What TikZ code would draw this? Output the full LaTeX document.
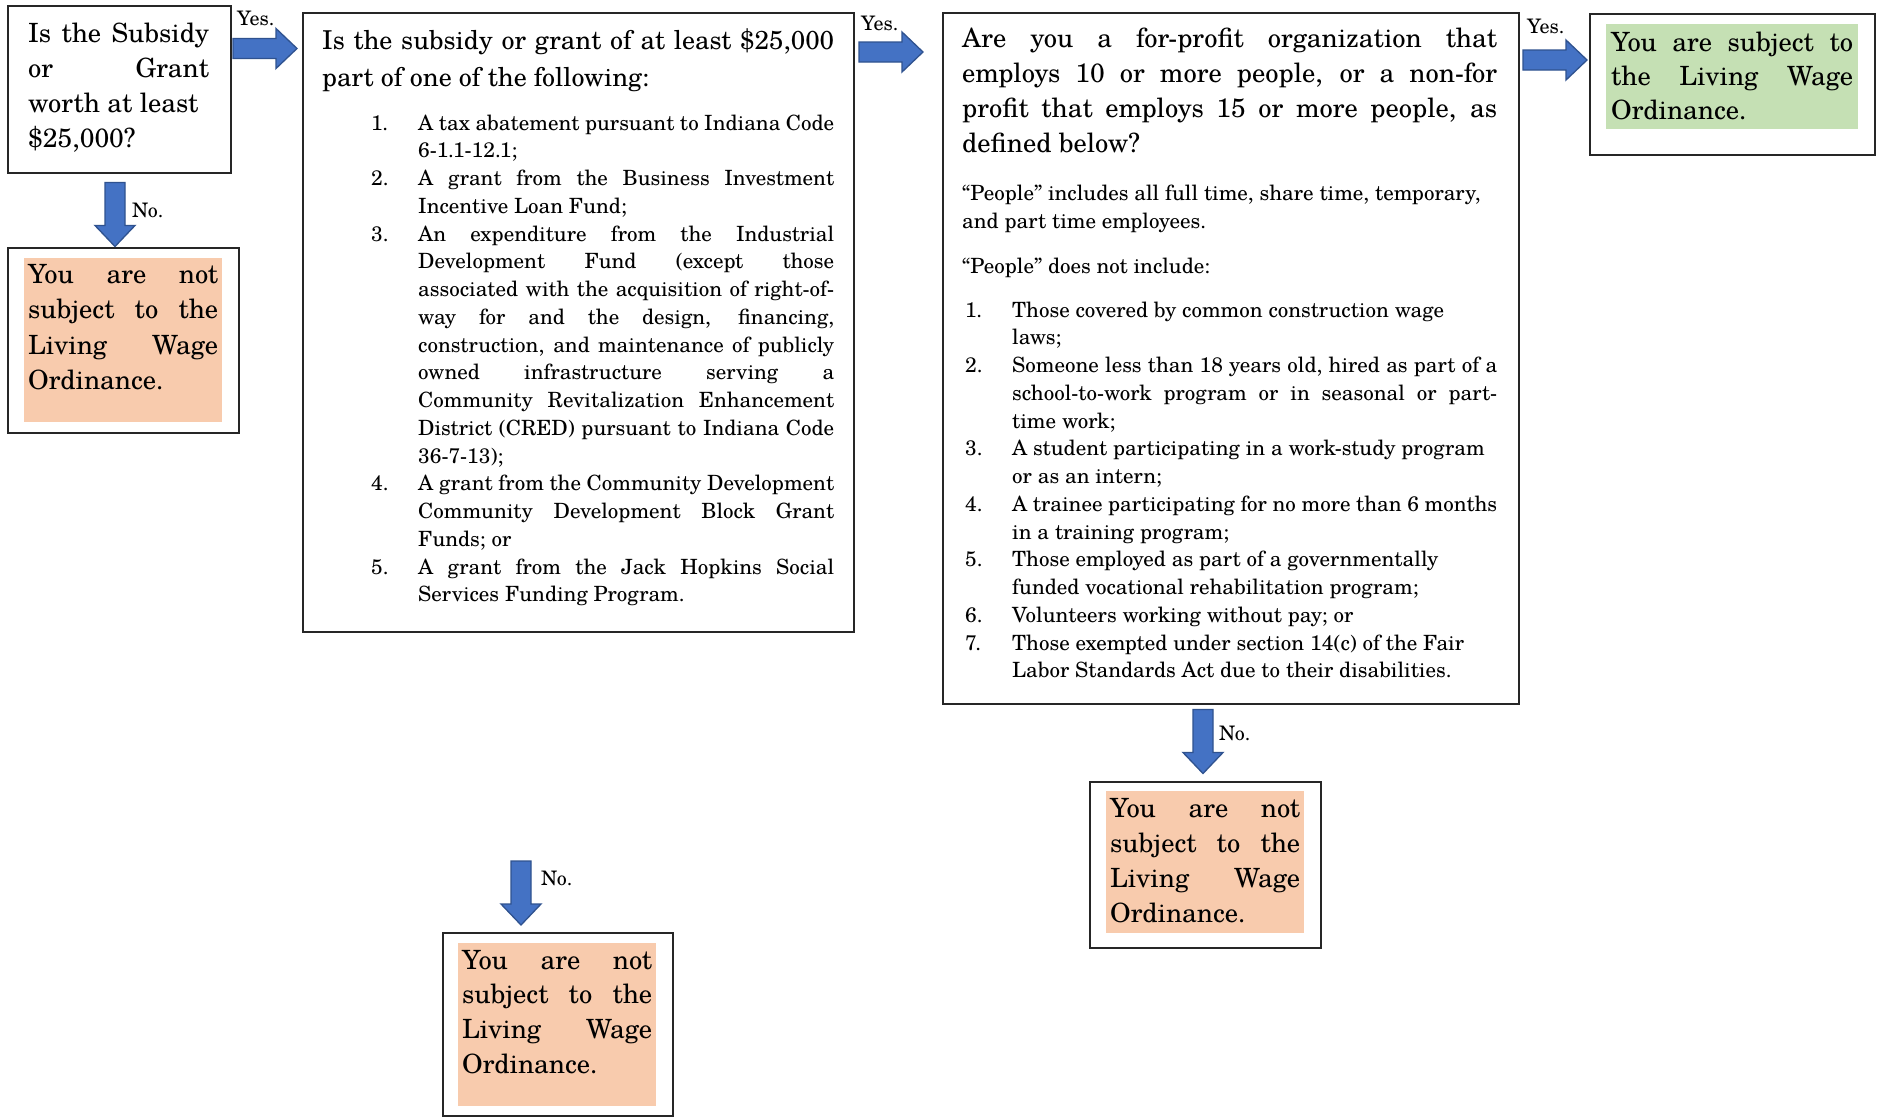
\documentclass[tikz,border=0pt]{standalone}
\usepackage{fontspec}
\IfFontExistsTF{texgyreschola-regular.otf}{\setmainfont{texgyreschola-regular.otf}}{}
\definecolor{arrowblue}{HTML}{4472C4}
\definecolor{arrowedge}{HTML}{2F528F}
\definecolor{nofill}{HTML}{F8CBAD}
\definecolor{yesfill}{HTML}{C5E0B4}
\newcommand\TB[2]{\vtop{\hsize=#1\relax #2}}
\newcommand\LnJ[1]{\hbox to\hsize{#1}}
\newcommand\LnR[1]{\hbox to\hsize{#1\hfil}}
\newlength\itlab
\setlength\itlab{47pt}
\newcommand\ItJ[2]{\hbox to\hsize{\hbox to\itlab{#1\hfil}#2}}
\newcommand\ItR[2]{\hbox to\hsize{\hbox to\itlab{#1\hfil}#2\hfil}}
% block arrow: name, centre, rotation
\newcommand\blockarrow[3]{%
  \coordinate (#1) at #2;
  \draw[barrow, shift={(#1)}, rotate=#3]
    (-32,-10) -- (11,-10) -- (11,-20) -- (32,0) -- (11,20) -- (11,10) -- (-32,10) -- cycle;}
\tikzset{
  box/.style={draw=black!85, line width=2.4pt, inner sep=0pt, anchor=north west},
  fillbox/.style={fill=#1, draw=none, inner sep=0pt, anchor=north west},
  bigtext/.style={anchor=base west, inner sep=0pt, font=\fontsize{26.5pt}{35.3pt}\selectfont},
  smalltext/.style={anchor=base west, inner sep=0pt, font=\fontsize{21pt}{27.76pt}\selectfont},
  lbl/.style={anchor=base west, inner sep=0pt, font=\fontsize{20pt}{24pt}\selectfont},
  barrow/.style={fill=arrowblue, draw=arrowedge, line width=1.3pt, line join=miter},
}
\begin{document}
\begin{tikzpicture}[x=1pt,y=-1pt]
\useasboundingbox[fill=white] (0,0) rectangle (1877,1117);

% ---------- box 1 ----------
\node[box, minimum width=223pt, minimum height=167pt] (b1) at (7,5) {};
\node[bigtext] (t1) at (28,42) {\TB{181pt}{%
\LnJ{Is the Subsidy}\LnJ{or Grant}\LnR{worth at least}\LnR{\$25,000?}}};

% ---------- no box 1 ----------
\node[box, minimum width=231pt, minimum height=185pt] (n1) at (7,247) {};
\node[fillbox=nofill, minimum width=198pt, minimum height=164pt] (f1) at (24,258) {};
\node[bigtext, font=\fontsize{26.5pt}{35.5pt}\selectfont] (tn1) at (28,283) {\TB{190pt}{%
\LnJ{You are not}\LnJ{subject to the}\LnJ{Living Wage}\LnR{Ordinance.}}};

% ---------- box 2 ----------
\node[box, minimum width=551pt, minimum height=619pt] (b2) at (302,12) {};
\node[bigtext, font=\fontsize{26pt}{37pt}\selectfont] (t2) at (322,49) {\TB{512pt}{%
\LnJ{Is the subsidy or grant of at least \$25,000}\LnR{part of one of the following:}}};
\node[smalltext] (l2) at (371,130) {\TB{463pt}{%
\ItJ{1.}{A tax abatement pursuant to Indiana Code}%
\ItR{}{6-1.1-12.1;}%
\ItJ{2.}{A grant from the Business Investment}%
\ItR{}{Incentive Loan Fund;}%
\ItJ{3.}{An expenditure from the Industrial}%
\ItJ{}{Development Fund (except those}%
\ItJ{}{associated with the acquisition of right-of-}%
\ItJ{}{way for and the design, financing,}%
\ItJ{}{construction, and maintenance of publicly}%
\ItJ{}{owned infrastructure serving a}%
\ItJ{}{Community Revitalization Enhancement}%
\ItJ{}{District (CRED) pursuant to Indiana Code}%
\ItR{}{36-7-13);}%
\ItJ{4.}{A grant from the Community Development}%
\ItJ{}{Community Development Block Grant}%
\ItR{}{Funds; or}%
\ItJ{5.}{A grant from the Jack Hopkins Social}%
\ItR{}{Services Funding Program.}}};

% ---------- no box 2 ----------
\node[box, minimum width=230pt, minimum height=183pt] (n2) at (442,932) {};
\node[fillbox=nofill, minimum width=198pt, minimum height=163pt] (f2) at (458,943) {};
\node[bigtext, font=\fontsize{26.5pt}{34.7pt}\selectfont] (tn2) at (462,969) {\TB{190pt}{%
\LnJ{You are not}\LnJ{subject to the}\LnJ{Living Wage}\LnR{Ordinance.}}};

% ---------- box 3 ----------
\node[box, minimum width=576pt, minimum height=691pt] (b3) at (942,12) {};
\node[bigtext] (t3) at (962,47) {\TB{535pt}{%
\LnJ{Are you a for-profit organization that}%
\LnJ{employs 10 or more people, or a non-for}%
\LnJ{profit that employs 15 or more people, as}%
\LnR{defined below?}}};
\node[smalltext, font=\fontsize{21pt}{28pt}\selectfont] (p3a) at (962,200) {\TB{535pt}{%
\LnR{“People” includes all full time, share time, temporary,}%
\LnR{and part time employees.}}};
\node[smalltext] (p3b) at (962,273) {\TB{535pt}{\LnR{“People” does not include:}}};
\node[smalltext] (l3) at (965,317) {\TB{532pt}{%
\ItR{1.}{Those covered by common construction wage}%
\ItR{}{laws;}%
\ItJ{2.}{Someone less than 18 years old, hired as part of a}%
\ItJ{}{school-to-work program or in seasonal or part-}%
\ItR{}{time work;}%
\ItR{3.}{A student participating in a work-study program}%
\ItR{}{or as an intern;}%
\ItR{4.}{A trainee participating for no more than 6 months}%
\ItR{}{in a training program;}%
\ItR{5.}{Those employed as part of a governmentally}%
\ItR{}{funded vocational rehabilitation program;}%
\ItR{6.}{Volunteers working without pay; or}%
\ItR{7.}{Those exempted under section 14(c) of the Fair}%
\ItR{}{Labor Standards Act due to their disabilities.}}};

% ---------- no box 3 ----------
\node[box, minimum width=231pt, minimum height=166pt] (n3) at (1089,781) {};
\node[fillbox=nofill, minimum width=198pt, minimum height=142pt] (f3) at (1106,791) {};
\node[bigtext, font=\fontsize{26.5pt}{35pt}\selectfont] (tn3) at (1110,817) {\TB{190pt}{%
\LnJ{You are not}\LnJ{subject to the}\LnJ{Living Wage}\LnR{Ordinance.}}};

% ---------- yes box ----------
\node[box, minimum width=285pt, minimum height=141pt] (y4) at (1589,13) {};
\node[fillbox=yesfill, minimum width=252pt, minimum height=105pt] (f4) at (1606,24) {};
\node[bigtext, font=\fontsize{26.5pt}{34pt}\selectfont] (ty4) at (1611,51) {\TB{242pt}{%
\LnJ{You are subject to}\LnJ{the Living Wage}\LnR{Ordinance.}}};

% ---------- arrows ----------
\blockarrow{a1}{(265,48.5)}{0}
\blockarrow{a2}{(891,52)}{0}
\blockarrow{a3}{(1555,60)}{0}
\blockarrow{d1}{(115,214.5)}{-90}
\blockarrow{d2}{(521,893)}{-90}
\blockarrow{d3}{(1203,741.5)}{-90}

% ---------- labels ----------
\node[lbl] (ya1) at (237,25) {Yes.};
\node[lbl] (ya2) at (861,30) {Yes.};
\node[lbl] (ya3) at (1527,33) {Yes.};
\node[lbl] (nd1) at (132,217) {No.};
\node[lbl] (nd2) at (541,885) {No.};
\node[lbl] (nd3) at (1219,740) {No.};
\end{tikzpicture}
\end{document}
